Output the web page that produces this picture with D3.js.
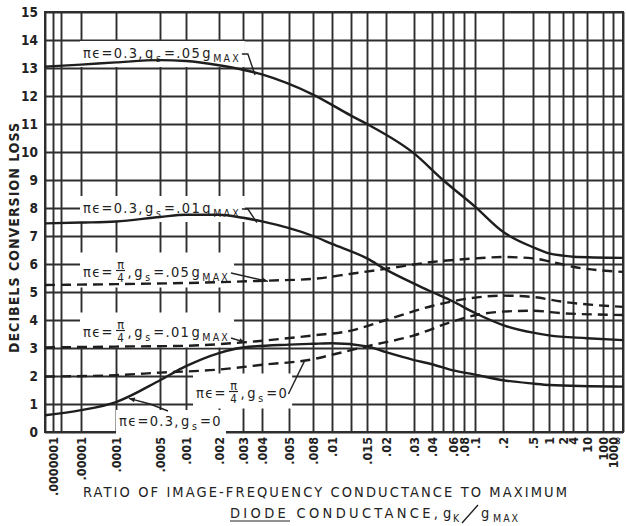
<!DOCTYPE html>
<html><head><meta charset="utf-8">
<script src="https://cdn.jsdelivr.net/npm/d3@7"></script>
<style>
  body { margin: 0; background: #fff; }
  svg { display: block; }
  text { font-family: "DejaVu Sans Condensed", "DejaVu Sans", sans-serif; fill: #222; }
</style>
</head><body>
<svg id="chart" width="626" height="526"></svg>
<script>
// Ratio of image-frequency conductance to maximum diode conductance (g_K / g_MAX).
// ZERO and INF stand for the left frame edge and the "∞" right frame edge.
const ZERO = 1e-8, INF = 1e4;

// every vertical rule of the chart paper
const gridValues = [ZERO, 1e-7, 1e-6, 1e-5, 1e-4, 5e-4, 1e-3, 2e-3, 3e-3, 4e-3, 5e-3, 8e-3,
  0.01, 0.012, 0.015, 0.02, 0.03, 0.04, 0.05, 0.06, 0.08, 0.1, 0.2, 0.5, 1, 2, 4, 10, 100, 1000, INF];

// labelled ticks
const tickValues = [1e-7, 1e-5, 1e-4, 5e-4, 1e-3, 2e-3, 3e-3, 4e-3, 5e-3, 8e-3, 0.01, 0.015,
  0.02, 0.03, 0.04, 0.06, 0.08, 0.1, 0.2, 0.5, 1, 2, 4, 10, 100, 1000, INF];
const tickLabels = [".0000001", ".00001", ".0001", ".0005", ".001", ".002", ".003", ".004",
  ".005", ".008", ".01", ".015", ".02", ".03", ".04", ".06", ".08", ".1", ".2", ".5",
  "1", "2", "4", "10", "100", "1000", "∞"];

const yTicks = d3.range(0, 16);

// conversion loss in dB
const lossEps03Gs05 = [[ZERO, 13.05], [1e-5, 13.12], [1e-4, 13.2], [5e-4, 13.28], [1e-3, 13.25],
  [2e-3, 13.1], [4e-3, 12.77], [8e-3, 12.05], [0.012, 11.3], [0.015, 11.0], [0.03, 9.95],
  [0.05, 9.0], [0.1, 8.05], [0.2, 7.15], [0.5, 6.6], [1, 6.38], [2, 6.3], [4, 6.26], [INF, 6.22]];

const lossEps03Gs01 = [[ZERO, 7.45], [1e-5, 7.48], [1e-4, 7.52], [5e-4, 7.68], [1e-3, 7.76],
  [2e-3, 7.76], [3e-3, 7.65], [4e-3, 7.52], [8e-3, 7.0], [0.01, 6.72], [0.015, 6.2],
  [0.02, 5.8], [0.03, 5.3], [0.04, 5.0], [0.06, 4.66], [0.1, 4.25], [0.2, 3.82], [0.5, 3.55],
  [1, 3.45], [10, 3.35], [INF, 3.28]];

const lossEpsQGs05 = [[ZERO, 5.25], [1e-4, 5.28], [2e-3, 5.35], [4e-3, 5.4], [8e-3, 5.47],
  [0.012, 5.65], [0.02, 5.83], [0.04, 6.07], [0.1, 6.2], [0.2, 6.25], [0.5, 6.2], [1, 6.1],
  [4, 5.9], [INF, 5.72]];

const lossEpsQGs01 = [[ZERO, 3.02], [1e-4, 3.05], [1e-3, 3.08], [3e-3, 3.2], [8e-3, 3.45],
  [0.012, 3.62], [0.02, 4.0], [0.04, 4.5], [0.1, 4.8], [0.2, 4.87], [0.5, 4.82], [2, 4.65],
  [INF, 4.47]];

const lossEpsQGs0 = [[ZERO, 1.98], [1e-4, 2.03], [5e-4, 2.12], [2e-3, 2.23], [4e-3, 2.4],
  [8e-3, 2.6], [0.01, 2.76], [0.015, 3.06], [0.03, 3.45], [0.06, 3.95], [0.1, 4.17],
  [0.2, 4.3], [0.5, 4.33], [2, 4.24], [INF, 4.18]];

const lossEps03Gs0 = [[ZERO, 0.6], [1e-5, 0.78], [1e-4, 1.07], [5e-4, 1.85], [1e-3, 2.35],
  [2e-3, 2.82], [3e-3, 3.02], [5e-3, 3.12], [8e-3, 3.15], [0.01, 3.17], [0.015, 3.06],
  [0.02, 2.85], [0.03, 2.57], [0.04, 2.42], [0.06, 2.2], [0.1, 2.05], [0.2, 1.85],
  [0.5, 1.73], [1, 1.68], [INF, 1.62]];

// ---------- layout ----------
const svg = d3.select("#chart");
const pLeft = 45, pRight = 623, pTop = 12, pBottom = 432;

// the printed abscissa is a hand-ruled, compressed log scale: knot positions per rule
const knotPx = [45, 53, 61, 81, 116, 160, 186, 219, 243, 262, 289, 313, 332, 351, 367, 386,
  414, 432, 443, 453, 464, 475, 503, 533, 549, 563, 573, 587, 603, 613, 623];
const x = d3.scaleLog().domain(gridValues).range(knotPx);
const y = d3.scaleLinear().domain([0, 15]).range([pBottom, pTop]);

const ink = "#2e2e2e";
const fontStack = '"DejaVu Sans Condensed","DejaVu Sans",sans-serif';

// grid
const gGrid = svg.append("g");
gGrid.append("g")
  .attr("transform", `translate(0,${pBottom})`)
  .call(d3.axisBottom(x).tickValues(gridValues).tickSize(-(pBottom - pTop)).tickFormat(""))
  .call(g => g.select(".domain").remove())
  .call(g => g.selectAll("line").attr("stroke", ink).attr("stroke-width", 1.9));

gGrid.append("g")
  .attr("transform", `translate(${pLeft},0)`)
  .call(d3.axisLeft(y).tickValues(yTicks).tickSize(-(pRight - pLeft)).tickPadding(7).tickFormat(d3.format("d")))
  .call(g => g.select(".domain").remove())
  .call(g => g.selectAll("line").attr("stroke", ink).attr("stroke-width", 1.9))
  .call(g => g.selectAll("text").attr("font-size", 13.5).attr("font-weight", "bold").attr("fill", "#222")
      .style("font-family", fontStack));

// frame
svg.append("rect").attr("x", pLeft).attr("y", pTop).attr("width", pRight - pLeft).attr("height", pBottom - pTop)
  .attr("fill", "none").attr("stroke", ink).attr("stroke-width", 2);

// x tick labels, turned to read upward
svg.append("g")
  .attr("transform", `translate(0,${pBottom})`)
  .call(d3.axisBottom(x).tickValues(tickValues).tickSize(0).tickFormat((d, i) => tickLabels[i]))
  .call(g => g.select(".domain").remove())
  .call(g => g.selectAll("text")
      .attr("transform", "rotate(-90)")
      .attr("x", -5).attr("y", d => d === INF ? -6 : 0).attr("dy", "0.36em")
      .attr("text-anchor", "end")
      .attr("font-size", d => d === INF ? 11 : 12.5).attr("font-weight", "bold").attr("fill", "#222")
      .style("font-family", fontStack));

// white label cards interrupt the ruling; filled in as the labels are set
const cardLayer = svg.append("g");

// curves
const line = d3.line().x(d => x(d[0])).y(d => y(d[1])).curve(d3.curveMonotoneX);
const series = [
  { data: lossEps03Gs05, dash: null },
  { data: lossEps03Gs01, dash: null },
  { data: lossEpsQGs05, dash: "10,6" },
  { data: lossEpsQGs01, dash: "10,6" },
  { data: lossEpsQGs0, dash: "10,6" },
  { data: lossEps03Gs0, dash: null }
];
svg.append("g").selectAll("path").data(series).join("path")
  .attr("d", d => line(d.data))
  .attr("fill", "none").attr("stroke", "#1e1e1e").attr("stroke-width", 2.4)
  .attr("stroke-dasharray", d => d.dash);

// ---------- annotations ----------
const ann = svg.append("g");
function label(x0, base, parts, pad) {
  const g = ann.append("g");
  let cx = x0;
  parts.forEach(p => {
    if (p.frac) {
      const w = 11;
      g.append("text").attr("x", cx + w / 2).attr("y", base - 8.5).attr("text-anchor", "middle")
        .attr("font-size", 12.5).text(p.frac[0]);
      g.append("line").attr("x1", cx + 1).attr("x2", cx + w - 1).attr("y1", base - 6.5).attr("y2", base - 6.5)
        .attr("stroke", "#222").attr("stroke-width", 1.2);
      g.append("text").attr("x", cx + w / 2).attr("y", base + 4.5).attr("text-anchor", "middle")
        .attr("font-size", 11.5).text(p.frac[1]);
      cx += w + 1.5;
    } else {
      const t = g.append("text").attr("x", cx).attr("y", base + (p.sub ? 4 : 0))
        .attr("font-size", p.sub ? 10.5 : 14.5).attr("letter-spacing", p.sub ? 2.2 : 1.3)
        .text(p.sub || p.t);
      cx += t.node().getComputedTextLength() + (p.sub ? 1 : 1.3);
    }
  });
  const b = g.node().getBBox();
  const [pl, pt, pr, pb] = pad || [3, 4, 4, 3];
  cardLayer.append("rect").attr("x", b.x - pl).attr("y", b.y - pt)
    .attr("width", b.width + pl + pr).attr("height", b.height + pt + pb).attr("fill", "#fff");
  return cx;
}
function leader(pts, arrow) {
  ann.append("path").attr("d", d3.line()(pts)).attr("fill", "none")
    .attr("stroke", "#222").attr("stroke-width", 1.4);
  if (arrow) {
    const [a, b] = pts.slice(-2);
    const ang = Math.atan2(b[1] - a[1], b[0] - a[0]);
    const L = 6, W = 2.5;
    const p1 = [b[0] - L * Math.cos(ang) + W * Math.sin(ang), b[1] - L * Math.sin(ang) - W * Math.cos(ang)];
    const p2 = [b[0] - L * Math.cos(ang) - W * Math.sin(ang), b[1] - L * Math.sin(ang) + W * Math.cos(ang)];
    ann.append("path").attr("d", d3.line()([p1, b, p2]) + "Z").attr("fill", "#222");
  }
}

let e;
e = label(83, 58, [{ t: "πϵ=0.3," }, { t: "g" }, { sub: "s" }, { t: "=.05" }, { t: " g" }, { sub: "MAX" }]);
leader([[e, 54], [e + 6, 54], [x(0.0036), y(12.75)]]);

e = label(83, 213, [{ t: "πϵ=0.3," }, { t: "g" }, { sub: "s" }, { t: "=.01" }, { t: "g" }, { sub: "MAX" }]);
leader([[e, 209], [e + 6, 209], [x(0.0037), y(7.48)]]);

e = label(83, 277, [{ t: "πϵ=" }, { frac: ["π", "4"] }, { t: "," }, { t: "g" }, { sub: "s" }, { t: "=.05" }, { t: " g" }, { sub: "MAX" }]);
leader([[e, 273], [x(0.0042), y(5.38)]], true);

e = label(83, 337, [{ t: "πϵ=" }, { frac: ["π", "4"] }, { t: "," }, { t: "g" }, { sub: "s" }, { t: "=.01" }, { t: " g" }, { sub: "MAX" }]);
leader([[e, 338], [x(0.0031), y(3.2)]], true);

e = label(196, 398, [{ t: "πϵ=" }, { frac: ["π", "4"] }, { t: "," }, { t: "g" }, { sub: "s" }, { t: "=0" }]);
leader([[e - 1, 394], [x(0.0068), y(2.55)]]);

label(119, 426, [{ t: "πϵ=0.3," }, { t: "g" }, { sub: "s" }, { t: "=0" }], [3, 3, 4, 2]);
leader([[168, 411], [150, 404], [x(0.00016), y(1.2)]], true);

// ---------- axis titles ----------
svg.append("text")
  .attr("transform", "translate(19,238) rotate(-90)")
  .attr("text-anchor", "middle").attr("font-size", 14).attr("font-weight", "bold")
  .attr("textLength", 230).attr("lengthAdjust", "spacing")
  .text("DECIBELS CONVERSION LOSS");

svg.append("text")
  .attr("x", 83).attr("y", 497).attr("font-size", 14.5)
  .attr("textLength", 484).attr("lengthAdjust", "spacing")
  .text("RATIO OF IMAGE-FREQUENCY CONDUCTANCE TO MAXIMUM");

const t2 = svg.append("g");
t2.append("text").attr("x", 230).attr("y", 518).attr("font-size", 14.5)
  .attr("textLength", 208).attr("lengthAdjust", "spacing")
  .text("DIODE CONDUCTANCE,");
t2.append("text").attr("x", 443).attr("y", 518).attr("font-size", 14.5).text("g");
t2.append("text").attr("x", 453).attr("y", 522).attr("font-size", 10.5).text("K");
t2.append("line").attr("x1", 462).attr("y1", 523).attr("x2", 478).attr("y2", 505)
  .attr("stroke", "#222").attr("stroke-width", 1.4);
t2.append("text").attr("x", 481).attr("y", 518).attr("font-size", 14.5).text("g");
t2.append("text").attr("x", 493).attr("y", 522).attr("font-size", 10.5).attr("letter-spacing", 2).text("MAX");
t2.append("line").attr("x1", 230).attr("x2", 290).attr("y1", 521).attr("y2", 521)
  .attr("stroke", "#222").attr("stroke-width", 1);
</script>
</body></html>
